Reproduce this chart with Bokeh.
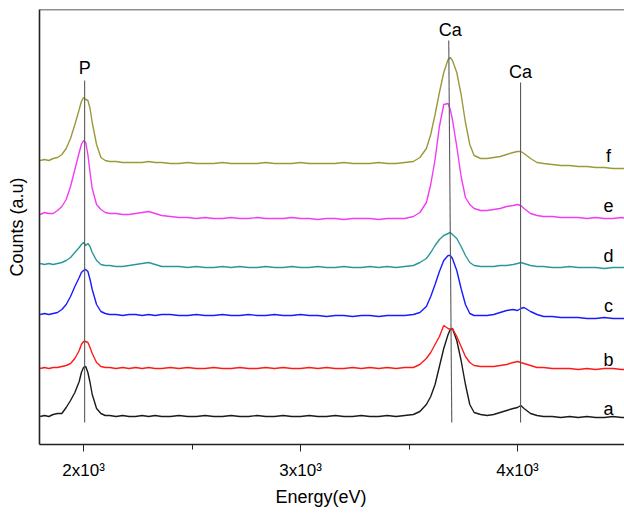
from bokeh.plotting import figure
from bokeh.models import SingleIntervalTicker, Span, Title
from bokeh.core.properties import value
from bokeh.embed import file_html
from bokeh.resources import INLINE

# Energy grid (eV)
energy = [1800, 1820, 1840, 1860, 1880, 1900, 1920, 1940, 1960, 1980,
          1990, 2000, 2010, 2020, 2030, 2040, 2060, 2080, 2100, 2120,
          2150, 2180, 2210, 2240, 2270, 2300, 2330, 2360, 2400, 2440,
          2480, 2520, 2560, 2600, 2640, 2680, 2720, 2760, 2800, 2840,
          2880, 2920, 2960, 3000, 3040, 3080, 3120, 3160, 3200, 3240,
          3280, 3320, 3360, 3400, 3440, 3480, 3520, 3550, 3580, 3600,
          3620, 3640, 3660, 3680, 3690, 3700, 3720, 3740, 3760, 3780,
          3800, 3830, 3860, 3890, 3920, 3950, 3980, 4000, 4015, 4030,
          4060, 4090, 4120, 4160, 4200, 4240, 4280, 4320, 4360, 4400,
          4440, 4480, 4500]

# Stacked counts (a.u.)
counts_a = [28, 29, 28, 30, 31, 31, 37, 44, 52, 63,
            72, 77, 78, 72, 62, 50, 36, 31, 29, 29,
            28, 29, 28, 28, 29, 28, 29, 28, 28, 29,
            28, 28, 29, 28, 28, 29, 28, 28, 29, 28,
            28, 29, 28, 28, 29, 28, 28, 29, 28, 28,
            29, 28, 28, 29, 28, 29, 30, 33, 40, 48,
            60, 78, 96, 110, 115, 116, 104, 84, 60, 40,
            32, 30, 29, 30, 32, 34, 36, 37, 39, 36,
            31, 29, 28, 28, 27, 28, 27, 28, 27, 27,
            28, 27, 27]
counts_b = [76, 77, 76, 77, 77, 78, 79, 81, 86, 94,
            100, 103, 103, 102, 97, 91, 82, 78, 77, 77,
            76, 77, 76, 77, 76, 77, 76, 76, 77, 76,
            77, 76, 76, 77, 76, 76, 77, 76, 76, 77,
            76, 77, 76, 76, 77, 76, 77, 76, 76, 77,
            76, 77, 76, 77, 76, 77, 77, 80, 86, 92,
            100, 108, 119, 116, 115, 116, 108, 98, 88, 82,
            79, 78, 78, 78, 79, 80, 82, 83, 82, 81,
            79, 77, 77, 76, 76, 76, 75, 76, 75, 76,
            76, 75, 75]
counts_c = [130, 131, 130, 131, 132, 135, 140, 148, 158, 167,
            172, 174, 175, 173, 165, 155, 140, 133, 131, 130,
            130, 129, 130, 130, 129, 130, 129, 130, 130, 129,
            129, 130, 129, 129, 130, 129, 129, 130, 129, 129,
            130, 129, 129, 130, 129, 129, 128, 129, 129, 128,
            129, 129, 128, 129, 129, 129, 130, 132, 138, 148,
            160, 173, 184, 189, 189, 186, 174, 156, 140, 131,
            129, 129, 129, 130, 132, 134, 135, 134, 136, 137,
            133, 130, 128, 128, 127, 127, 127, 126, 126, 127,
            126, 126, 126]
counts_d = [181, 180, 181, 180, 181, 182, 184, 187, 192, 197,
            200, 202, 199, 201, 198, 192, 184, 180, 179, 179,
            178, 178, 179, 180, 181, 182, 180, 178, 178, 178,
            177, 178, 177, 177, 178, 177, 178, 177, 177, 178,
            177, 177, 178, 177, 177, 178, 177, 177, 178, 177,
            177, 178, 177, 178, 177, 178, 179, 182, 186, 192,
            199, 205, 209, 211, 212, 210, 206, 198, 189, 182,
            179, 178, 178, 178, 179, 179, 180, 181, 182, 181,
            179, 178, 178, 177, 177, 178, 177, 177, 177, 176,
            177, 177, 177]
counts_e = [230, 232, 231, 231, 234, 238, 245, 258, 275, 292,
            300, 304, 302, 290, 272, 256, 240, 235, 232, 231,
            231, 230, 230, 231, 232, 233, 231, 229, 228, 227,
            227, 226, 227, 226, 226, 227, 226, 226, 227, 226,
            226, 226, 227, 226, 226, 225, 226, 226, 225, 226,
            226, 226, 225, 226, 226, 226, 228, 232, 242, 260,
            285, 318, 340, 341, 335, 325, 298, 268, 247, 240,
            236, 234, 234, 235, 236, 238, 239, 240, 239, 236,
            231, 229, 228, 228, 227, 227, 227, 226, 227, 226,
            226, 227, 226]
counts_f = [284, 285, 284, 286, 287, 290, 296, 306, 320, 335,
            343, 347, 345, 344, 336, 322, 300, 287, 284, 283,
            283, 282, 282, 282, 282, 283, 282, 282, 281, 281,
            282, 281, 281, 281, 282, 281, 281, 281, 281, 282,
            281, 281, 281, 282, 281, 281, 281, 281, 282, 281,
            281, 281, 282, 281, 281, 282, 283, 287, 296, 310,
            330, 352, 372, 385, 387, 384, 372, 350, 322, 300,
            289, 286, 286, 287, 288, 290, 292, 293, 293, 291,
            286, 282, 281, 280, 279, 279, 278, 278, 277, 277,
            276, 276, 276]

series_names = ["a", "b", "c", "d", "e", "f"]
series_counts = [counts_a, counts_b, counts_c, counts_d, counts_e, counts_f]
series_colors = ["#1a1a1a", "#ff1a1a", "#1a1aff", "#2a9898", "#f23cf2", "#9a9a3a"]

# Element marker lines
element_names = ["P", "Ca", "Ca"]
line_x0 = [2005, 3683, 4014]
line_x1 = [2005, 3697, 4014]
line_top = [364, 404, 362]
line_bottom = [22, 22, 22]

# Label positions
series_label_x = [4419] * 6
series_label_y = [36, 85, 139, 189, 239, 289]
element_label_x = [2005, 3690, 4014]
element_label_y = [377, 415, 373]

FONT = "Liberation Sans"

p = figure(width=624, height=514, x_range=(1797, 4493), y_range=(0, 435),
           output_backend="svg", toolbar_location=None,
           min_border_left=39, min_border_right=0, min_border_top=9,
           min_border_bottom=70)
p.outline_line_color = None
p.grid.visible = False
p.background_fill_color = "white"

for name, ys, col in zip(series_names, series_counts, series_colors):
    p.line(energy, ys, line_color=col, line_width=1.4)

p.segment(x0=line_x0, y0=line_top, x1=line_x1, y1=line_bottom,
          line_color="#5a5a5a", line_width=1.1)

p.text(x=element_label_x, y=element_label_y, text=element_names,
       text_font=value(FONT), text_font_size="18px", text_align="center",
       text_baseline="middle", text_color="black")
p.text(x=series_label_x, y=series_label_y, text=series_names,
       text_font=value(FONT), text_font_size="18px", text_align="center",
       text_baseline="middle", text_color="black")

# top frame line
p.add_layout(Span(location=435, dimension="width", line_color="#222222", line_width=1.6))

xa = p.xaxis[0]
xa.ticker = SingleIntervalTicker(interval=1000, num_minor_ticks=2)
xa.major_label_overrides = {2000: "2x10³", 3000: "3x10³", 4000: "4x10³"}
xa.major_label_text_font = FONT
xa.major_label_text_font_size = "17px"
xa.major_label_text_color = "black"
xa.major_label_standoff = 9
xa.axis_line_width = 1.6
xa.axis_line_color = "#222222"
xa.major_tick_in = 0
xa.major_tick_out = 7
xa.minor_tick_in = 0
xa.minor_tick_out = 5
xa.major_tick_line_color = "#222222"
xa.minor_tick_line_color = "#222222"

# x-axis title placed below the axis
p.add_layout(Title(text="Energy(eV)", text_font=FONT, text_font_size="18px",
                   text_font_style="normal", align="left", offset=236,
                   standoff=4, text_color="black"), "below")

ya = p.yaxis[0]
ya.ticker = []
ya.major_tick_line_color = None
ya.minor_tick_line_color = None
ya.major_tick_out = 0
ya.major_label_standoff = 0
ya.axis_label = "Counts (a.u)"
ya.axis_label_text_font = FONT
ya.axis_label_text_font_style = "normal"
ya.axis_label_text_font_size = "18px"
ya.axis_label_text_color = "black"
ya.axis_label_standoff = 13
ya.axis_line_width = 1.6
ya.axis_line_color = "#222222"

open("out.html", "w").write(file_html(p, INLINE))
